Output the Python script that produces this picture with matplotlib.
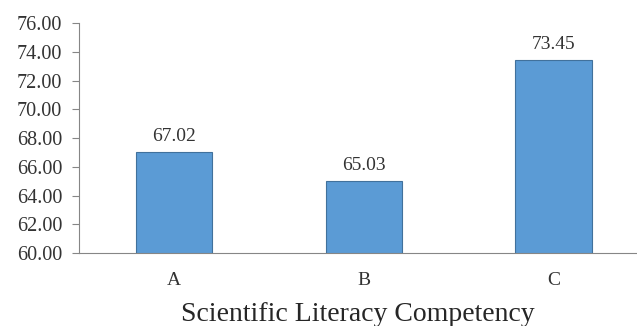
import matplotlib.pyplot as plt

categorias = ['A', 'B', 'C']
valores = [67.02, 65.03, 73.45]
ticks_y = [60, 62, 64, 66, 68, 70, 72, 74, 76]

plt.rcParams['font.family'] = ['Liberation Serif', 'DejaVu Serif']

fig = plt.figure(figsize=(6.37, 3.26), dpi=100)
ax = fig.add_axes([0.124, 0.224, 0.876, 0.705])

# barras azuis com borda mais escura
x = range(len(categorias))
bars = ax.bar(x, valores, width=0.405, color='#5B9BD5', edgecolor='#41719C', linewidth=0.8)

# valores em cima das barras
for bar, v in zip(bars, valores):
    ax.text(bar.get_x() + bar.get_width() / 2, v + 0.5, f'{v:.2f}',
            ha='center', va='bottom', fontsize=14, color='#333333')

ax.set_ylim(60, 76)
ax.set_xlim(-0.5, 2.437)
ax.set_yticks(ticks_y)
ax.set_yticklabels([f'{t:.2f}' for t in ticks_y], fontsize=14.5, color='#333333')
ax.set_xticks(list(x))
ax.set_xticklabels(categorias, fontsize=14, color='#333333')
ax.set_xlabel('Scientific Literacy Competency', fontsize=20, color='#262626', labelpad=9)

# eixos
for lado in ['top', 'right']:
    ax.spines[lado].set_visible(False)
ax.spines['left'].set_color('#868686')
ax.spines['bottom'].set_color('#868686')
ax.tick_params(axis='y', length=5, color='#868686', pad=7)
ax.tick_params(axis='x', length=0, pad=14)

plt.savefig('out.png', dpi=100)
